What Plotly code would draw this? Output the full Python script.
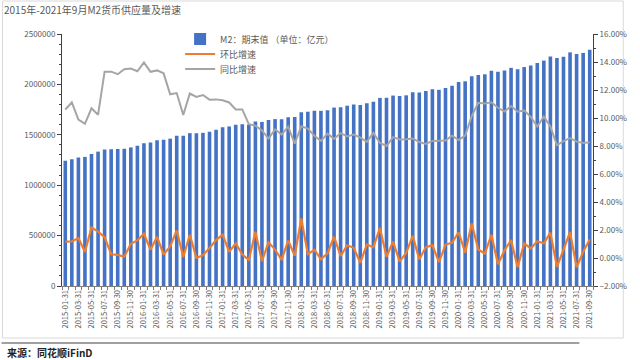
import plotly.graph_objects as go

dates = [
    "2015-01-31","2015-02-28","2015-03-31","2015-04-30","2015-05-31","2015-06-30","2015-07-31","2015-08-31","2015-09-30","2015-10-31","2015-11-30","2015-12-31",
    "2016-01-31","2016-02-29","2016-03-31","2016-04-30","2016-05-31","2016-06-30","2016-07-31","2016-08-31","2016-09-30","2016-10-31","2016-11-30","2016-12-31",
    "2017-01-31","2017-02-28","2017-03-31","2017-04-30","2017-05-31","2017-06-30","2017-07-31","2017-08-31","2017-09-30","2017-10-31","2017-11-30","2017-12-31",
    "2018-01-31","2018-02-28","2018-03-31","2018-04-30","2018-05-31","2018-06-30","2018-07-31","2018-08-31","2018-09-30","2018-10-31","2018-11-30","2018-12-31",
    "2019-01-31","2019-02-28","2019-03-31","2019-04-30","2019-05-31","2019-06-30","2019-07-31","2019-08-31","2019-09-30","2019-10-31","2019-11-30","2019-12-31",
    "2020-01-31","2020-02-29","2020-03-31","2020-04-30","2020-05-31","2020-06-30","2020-07-31","2020-08-31","2020-09-30","2020-10-31","2020-11-30","2020-12-31",
    "2021-01-31","2021-02-28","2021-03-31","2021-04-30","2021-05-31","2021-06-30","2021-07-31","2021-08-31","2021-09-30",
]

m2 = [
    1242710,1257384,1275332,1280779,1308689,1333375,1353211,1356900,1359824,1360998,1374941,1392278,
    1416319,1424619,1446198,1449775,1461695,1490492,1491560,1516360,1516361,1519469,1530440,1550067,
    1575945,1582913,1599609,1603529,1601361,1631282,1627459,1645766,1655662,1653437,1674043,1676769,
    1724251,1729097,1739279,1737681,1743614,1770179,1772588,1788670,1801665,1795558,1812852,1826744,
    1865935,1867427,1889412,1884671,1891544,1921360,1919410,1934420,1952250,1946400,1965000,1986489,
    2023066,2030830,2080923,2093534,2100184,2134949,2125458,2136836,2164084,2149720,2172100,2186796,
    2213047,2236030,2276488,2262134,2275537,2317788,2302153,2312267,2342829,
]

mom = [  # 环比增速 (%)
    1.17,1.18,1.43,0.43,2.18,1.89,1.49,0.27,0.22,0.09,1.02,1.26,
    1.73,0.59,1.51,0.25,0.82,1.97,0.07,1.66,0.00,0.20,0.72,1.28,
    1.67,0.44,1.05,0.25,-0.14,1.87,-0.23,1.12,0.60,-0.13,1.25,0.16,
    2.83,0.28,0.59,-0.09,0.34,1.52,0.14,0.91,0.73,-0.34,0.96,0.77,
    2.15,0.08,1.18,-0.25,0.36,1.58,-0.10,0.78,0.92,-0.30,0.96,1.09,
    1.84,0.38,2.47,0.61,0.32,1.66,-0.44,0.54,1.28,-0.66,1.04,0.68,
    1.20,1.04,1.81,-0.63,0.59,1.86,-0.67,0.44,1.32,
]

yoy = [  # 同比增速 (%)
    10.61,11.11,9.88,9.58,10.69,10.23,13.31,13.31,13.13,13.49,13.53,13.34,
    13.97,13.30,13.40,13.19,11.69,11.78,10.22,11.75,11.51,11.64,11.31,11.33,
    11.27,11.11,10.61,10.61,9.56,9.45,9.11,8.53,9.19,8.82,9.38,8.17,
    9.41,9.24,8.73,8.37,8.88,8.51,8.92,8.68,8.82,8.60,8.29,8.94,
    8.22,8.00,8.63,8.46,8.48,8.54,8.28,8.15,8.36,8.40,8.39,8.74,
    8.42,8.75,10.14,11.08,11.03,11.12,10.73,10.46,10.85,10.45,10.54,10.08,
    9.39,10.10,9.40,8.05,8.35,8.56,8.31,8.21,8.26,
]

title_text = "2015年-2021年9月M2货币供应量及增速"
source_text = "来源：同花顺iFinD"
names = ["M2：期末值 （单位：亿元）", "环比增速", "同比增速"]

xpos = list(range(len(dates)))
font_family = "Noto Sans CJK SC, Noto Sans, sans-serif"
grey = "#595959"

fig = go.Figure()
fig.add_trace(go.Bar(x=xpos, y=m2, name=names[0], marker=dict(color="#4472C4", line=dict(width=0)),
                     yaxis="y", legend="legend"))
fig.add_trace(go.Scatter(x=xpos, y=[v / 100 for v in mom], name=names[1], mode="lines",
                         line=dict(color="#ED7D31", width=2.2), yaxis="y2", legend="legend2"))
fig.add_trace(go.Scatter(x=xpos, y=[v / 100 for v in yoy], name=names[2], mode="lines",
                         line=dict(color="#A5A5A5", width=2), yaxis="y2", legend="legend3"))

L, R, T, B = 62, 606, 34, 286
W, H = R - L, B - T

def px_x(p):
    return (p - L) / W

def px_y(p):
    return (B - p) / H

def leg(ypix):
    return dict(x=px_x(183), y=px_y(ypix), xanchor="left", yanchor="middle",
                font=dict(size=9, color=grey), bgcolor="rgba(0,0,0,0)", itemwidth=30)

fig.update_layout(
    width=640, height=360, autosize=False,
    margin=dict(l=L, r=640 - R, t=T, b=360 - B),
    paper_bgcolor="white", plot_bgcolor="white",
    font=dict(family=font_family, color=grey, size=8),
    bargap=0.45,
    showlegend=True,
    legend=leg(39), legend2=leg(54), legend3=leg(69),
    title=dict(text=title_text, x=4 / 640, xanchor="left", y=1 - 10 / 360, yanchor="middle",
               font=dict(size=10, color=grey)),
    xaxis=dict(range=[-0.5, len(dates) - 0.5], tickmode="array",
               tickvals=xpos[::2], ticktext=dates[::2], tickangle=-90,
               tickfont=dict(size=7.5, color=grey), showgrid=False, zeroline=False,
               showline=True, linecolor="#7f7f7f", linewidth=1,
               ticks="", minor=dict(tick0=-0.5, dtick=1, ticks="outside", ticklen=3,
                                     tickcolor="#7f7f7f", showgrid=False)),
    yaxis=dict(range=[0, 2500000], dtick=500000, tickformat="d", showgrid=False, zeroline=False,
               showline=True, linecolor="#404040", linewidth=1, ticks="outside", ticklen=4,
               tickcolor="#404040", tickfont=dict(size=8, color=grey),
               minor=dict(dtick=100000, ticks="outside", ticklen=2, tickcolor="#404040", showgrid=False)),
    yaxis2=dict(range=[-0.02, 0.16], dtick=0.02, tickformat=".2%", overlaying="y", side="right",
                showgrid=False, zeroline=False, showline=True, linecolor="#404040", linewidth=1,
                ticks="outside", ticklen=4, tickcolor="#404040", tickfont=dict(size=8, color=grey),
                minor=dict(dtick=0.01, ticks="outside", ticklen=2, tickcolor="#404040", showgrid=False)),
    shapes=[
        dict(type="rect", xref="paper", yref="paper", x0=px_x(1), x1=px_x(637), y0=px_y(338), y1=px_y(1),
             line=dict(color="#D9D9D9", width=1), fillcolor="rgba(0,0,0,0)", layer="below"),
        dict(type="line", xref="paper", yref="paper", x0=px_x(0), x1=px_x(592), y0=px_y(343), y1=px_y(343),
             line=dict(color="#808080", width=1.5)),
    ],
    annotations=[
        dict(text="<b>" + source_text + "</b>", xref="paper", yref="paper", x=px_x(4), y=px_y(352),
             xanchor="left", yanchor="middle", showarrow=False, font=dict(size=10, color="#222222")),
    ],
)

fig.write_html("out.html", config={"displayModeBar": False},
               post_script="document.body.style.margin='0px';")
